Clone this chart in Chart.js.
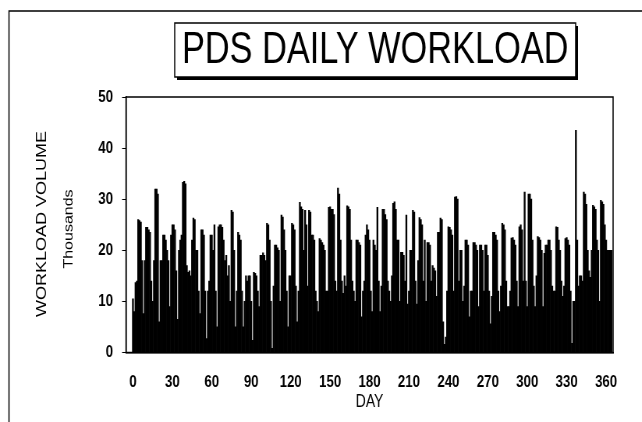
<!DOCTYPE html>
<html>
<head>
<meta charset="utf-8">
<title>PDS Daily Workload</title>
<script src="https://cdn.jsdelivr.net/npm/chart.js@4.4.1/dist/chart.umd.min.js"></script>
<style>
    html, body { margin: 0; padding: 0; background: #fff; overflow: hidden; }
    /* the scanned original is squeezed sideways, so draw wide and squeeze */
    #wrap { position: absolute; left: 0; top: 0; width: 823px; height: 422px; transform: scaleX(0.78); transform-origin: 0 0; }
</style>
</head>
<body>
<div id="wrap"><canvas id="workloadChart" width="823" height="422"></canvas></div>
<script>
// Daily workload, thousands, one array per 30 days
const days000 = [10.5, 8, 13.7, 14, 26, 25.8, 25.5, 18, 7.6, 18, 24.5, 24.5, 24, 23.5, 14, 10, 18, 32, 32, 31, 6, 18, 18, 23, 23, 22, 20, 18, 9, 23];
const days030 = [25, 25, 24, 16, 6.5, 20, 22, 23, 33.3, 33.5, 33, 17, 15.7, 16, 15, 22, 26.3, 26, 20, 20, 12, 7.6, 24, 24, 23, 12, 2.7, 12, 14, 23];
const days060 = [23, 20, 25, 12, 5, 24.6, 25, 25, 24.5, 22, 18, 19, 15, 17, 10, 27.8, 27.5, 20, 5, 12, 23.5, 23, 22, 12, 5, 10, 15, 14, 15, 15];
const days090 = [10, 2.4, 15.7, 15.5, 15, 12, 9, 19, 19, 19.5, 19, 18, 25.3, 25, 22, 10, 0.8, 13, 21, 21, 20.5, 20, 10, 26.9, 26.5, 24, 20, 12, 5, 15];
const days120 = [15, 25.3, 25, 24, 13, 6, 12, 29.4, 28.5, 28, 20, 27.8, 25, 13, 27.8, 27.5, 23, 23, 22, 12, 10, 8, 22.3, 22, 21.5, 21, 20, 12, 12, 28.4];
const days150 = [28.5, 28, 28, 27, 14, 12, 32.2, 31, 22, 14, 11.6, 15, 13, 28.7, 28.5, 28, 22, 14, 12, 10, 22, 22, 21.5, 21, 7, 12, 14, 23, 25, 24];
const days180 = [22, 12, 8, 22, 21, 20, 28.4, 14, 8, 13, 28, 28, 27, 26, 14, 12, 10, 15, 29.2, 29.5, 28, 22, 22, 10, 19.6, 19.6, 19, 14, 26.9, 9.5];
const days210 = [12, 20, 20, 27.8, 27.5, 14, 9.5, 18, 26.4, 26, 25, 14, 22, 10, 21.5, 21.5, 21, 14, 17, 16.5, 16, 11, 23.5, 23.5, 26.3, 26, 6, 1.6, 3, 12];
const days240 = [24.6, 24.5, 24, 23, 12, 30.4, 30.5, 30, 14, 20, 20, 10, 13, 22, 22, 21, 7, 12, 12, 21.5, 21.5, 21, 20, 9, 21, 21, 20, 12, 21, 21];
const days270 = [19, 12, 5.6, 11, 23.5, 23.5, 23, 22, 12, 8, 13, 25.3, 25, 24, 14, 9, 9, 12, 22.4, 22.5, 22, 21, 14, 9, 24.6, 25, 24, 14, 31.4, 14];
const days300 = [9, 31, 31, 30, 22, 13, 9, 15, 22.7, 22.5, 22, 20, 9, 19.4, 21, 21, 22, 22, 20, 13, 12, 12, 24.6, 24.5, 22, 20, 14, 11, 13, 22.3];
const days330 = [22.5, 22, 21, 12, 1.8, 10, 10, 43.5, 22, 13, 15, 15, 14, 31.4, 31, 29, 20, 16, 14.7, 20, 28.8, 28.5, 28, 22, 20, 10, 29.8, 29.5, 29, 25];
const days360 = [22, 20, 20, 20, 20];

const dayTicks = [0, 30, 60, 90, 120, 150, 180, 210, 240, 270, 300, 330, 360];
const volumeTicks = [0, 10, 20, 30, 40, 50];

const workload = [].concat(days000, days030, days060, days090, days120, days150,
    days180, days210, days240, days270, days300, days330, days360);
const dayNumbers = workload.map((v, i) => i);

const textFont = '"Liberation Sans", Arial, sans-serif';

// outer frame, boxed title, and the two rotated y titles
const decorations = {
    id: 'decorations',
    beforeDraw(chart) {
        const ctx = chart.ctx;
        ctx.save();
        ctx.strokeStyle = '#000';
        ctx.lineWidth = 1.5;
        ctx.strokeRect(11.5, 11, 900, 500);
        ctx.restore();
    },
    afterDraw(chart) {
        const ctx = chart.ctx;
        const area = chart.chartArea;
        ctx.save();

        // plot frame
        ctx.strokeStyle = '#000';
        ctx.lineWidth = 1.5;
        ctx.strokeRect(area.left, area.top, area.right - area.left, area.bottom - area.top);

        // title box with drop shadow
        const bx = 224, by = 23, bw = 514, bh = 54;
        ctx.fillStyle = '#000';
        ctx.fillRect(bx + 3, by + 3, bw, bh);
        ctx.fillStyle = '#fff';
        ctx.fillRect(bx, by, bw, bh);
        ctx.strokeRect(bx, by, bw, bh);

        ctx.fillStyle = '#000';
        ctx.textAlign = 'center';
        ctx.textBaseline = 'middle';
        ctx.font = '44px ' + textFont;
        ctx.fillText('PDS DAILY WORKLOAD', bx + bw / 2, by + bh / 2 + 1);

        // y axis titles
        ctx.translate(54, 224);
        ctx.rotate(-Math.PI / 2);
        ctx.font = '18px ' + textFont;
        ctx.fillText('WORKLOAD VOLUME', 0, 0);
        ctx.restore();

        ctx.save();
        ctx.translate(89, 229);
        ctx.rotate(-Math.PI / 2);
        ctx.fillStyle = '#000';
        ctx.textAlign = 'center';
        ctx.textBaseline = 'middle';
        ctx.font = '16px ' + textFont;
        ctx.fillText('Thousands', 0, 0);
        ctx.restore();
    }
};

const ctx = document.getElementById('workloadChart').getContext('2d');

new Chart(ctx, {
    type: 'bar',
    data: {
        labels: dayNumbers,
        datasets: [{
            label: 'Workload',
            data: workload,
            backgroundColor: '#000',
            borderWidth: 0,
            barPercentage: 1,
            categoryPercentage: 1
        }]
    },
    options: {
        responsive: false,
        animation: false,
        layout: {
            padding: { top: 97, right: 37, bottom: 0, left: 0 }
        },
        plugins: {
            legend: { display: false },
            tooltip: { enabled: false },
            title: { display: false }
        },
        scales: {
            x: {
                type: 'linear',
                offset: false,
                min: -5.3,
                max: 365.3,
                afterBuildTicks: (scale) => {
                    scale.ticks = dayTicks.map(v => ({ value: v }));
                },
                afterFit: (scale) => { scale.height = 69.5; },
                grid: { display: false, drawTicks: false, tickLength: 0 },
                border: { display: true, color: '#000', width: 1.5 },
                ticks: {
                    color: '#000',
                    padding: 20,
                    maxRotation: 0,
                    autoSkip: false,
                    font: { family: textFont, size: 17, weight: 'bold' }
                },
                title: {
                    display: true,
                    text: 'DAY',
                    color: '#000',
                    padding: { top: 9, bottom: 9 },
                    font: { family: textFont, size: 18 }
                }
            },
            y: {
                min: 0,
                max: 50,
                afterBuildTicks: (scale) => {
                    scale.ticks = volumeTicks.map(v => ({ value: v }));
                },
                afterFit: (scale) => { scale.width = 161.5; },
                grid: {
                    display: true,
                    drawOnChartArea: false,
                    drawTicks: true,
                    tickLength: 5,
                    color: '#000'
                },
                border: { display: true, color: '#000', width: 1.5 },
                ticks: {
                    color: '#000',
                    padding: 11.5,
                    font: { family: textFont, size: 17, weight: 'bold' }
                }
            }
        }
    },
    plugins: [decorations]
});
</script>
</body>
</html>
